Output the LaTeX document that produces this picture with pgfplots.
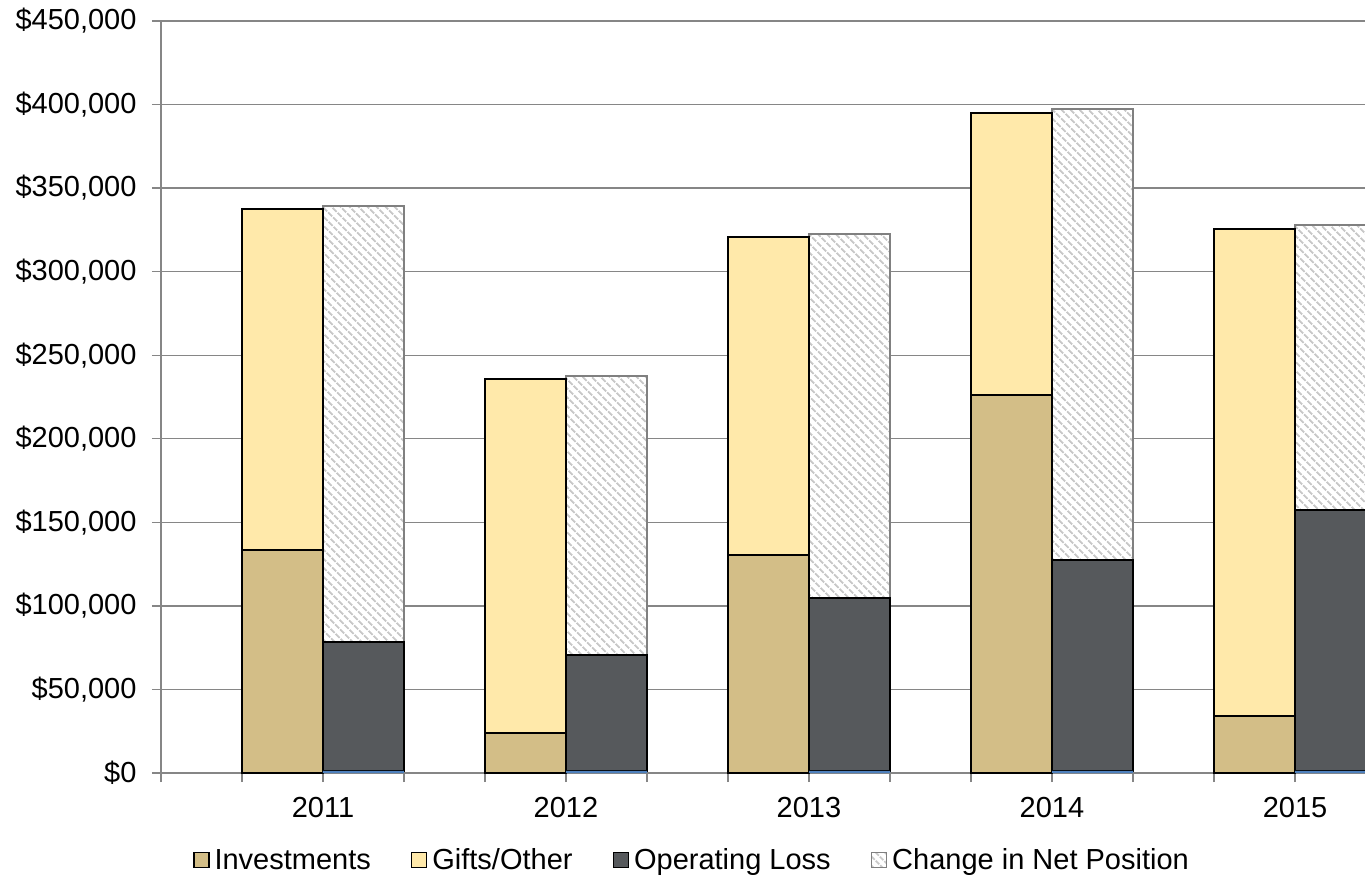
\documentclass[border=0pt]{standalone}
\usepackage{pgfplots}
\pgfplotsset{compat=1.18}
\usepackage{pgfplotstable}
\usepackage{fontspec}
\setmainfont{Liberation Sans}
\usetikzlibrary{patterns.meta}
\definecolor{invc}{RGB}{211,190,135}
\definecolor{giftc}{RGB}{255,233,170}
\definecolor{opc}{RGB}{86,89,92}
\definecolor{bluc}{RGB}{79,129,189}
\definecolor{hatchc}{RGB}{200,200,200}
\definecolor{hatchb}{RGB}{128,128,128}
\definecolor{gridc}{RGB}{134,134,134}

\pgfplotstableread{
x inv gifts blue op change
1.5 133500 204200 0 0 0
2.5 0 0 1200 77200 261100
4.5 24000 212000 0 0 0
5.5 0 0 1200 69500 167000
7.5 130500 190500 0 0 0
8.5 0 0 1200 103600 218000
10.5 226300 168900 0 0 0
11.5 0 0 1200 126300 270100
13.5 34100 291600 0 0 0
14.5 0 0 1200 156300 170600
}\data

\begin{document}
\begin{tikzpicture}
\path[use as bounding box] (-161pt,-103pt) rectangle (1204pt,773pt);
\begin{axis}[
  scale only axis, width=1204pt, height=752pt,
  xmin=0, xmax=14.864, ymin=0, ymax=450000,
  ybar stacked, bar width=1, stacked ignores zero,
  axis x line=bottom, axis y line=left,
  axis line style={gridc, line width=1.3pt, -},
  ymajorgrids, grid style={gridc, line width=1.3pt},
  ytick={0,50000,100000,150000,200000,250000,300000,350000,400000,450000},
  yticklabels={\$0,{\$50,000},{\$100,000},{\$150,000},{\$200,000},{\$250,000},{\$300,000},{\$350,000},{\$400,000},{\$450,000}},
  xtick={0,1,2,3,4,5,6,7,8,9,10,11,12,13,14},
  xticklabels={,,2011,,,2012,,,2013,,,2014,,,2015},
  tick style={gridc, line width=1.3pt},
  major tick length=9pt, tick align=outside,
  tick label style={font=\fontsize{29}{33}\selectfont, text=black},
  yticklabel style={xshift=-12pt},
  xticklabel style={yshift=-12pt},
  legend style={at={(0.441,-0.1157)}, anchor=center, draw=none, fill=none,
    font=\fontsize{29}{33}\selectfont, legend columns=4,
    /tikz/every odd column/.append style={column sep=3pt},
    /tikz/every even column/.append style={column sep=38pt}},
  myleg/.style={legend image code/.code={\draw[##1, line width=1.5pt] (0pt,-7.5pt) rectangle (15pt,7.5pt);}},
]
\addplot[fill=bluc, draw=none, forget plot] table[x=x,y=blue]{\data};
\addplot[fill=invc, draw=black, line width=2pt, myleg] table[x=x,y=inv]{\data};
\addlegendentry{Investments}
\addplot[fill=giftc, draw=black, line width=2pt, myleg] table[x=x,y=gifts]{\data};
\addlegendentry{Gifts/Other}
\addplot[fill=opc, draw=black, line width=2pt, myleg] table[x=x,y=op]{\data};
\addlegendentry{Operating Loss}
\addplot[fill=white, postaction={pattern={Lines[angle=-45,distance=6.5pt,line width=2.2pt]}, pattern color=hatchc}, draw=hatchb, line width=2pt, myleg] table[x=x,y=change]{\data};
\addlegendentry{Change in Net Position}
\end{axis}
\end{tikzpicture}
\end{document}
